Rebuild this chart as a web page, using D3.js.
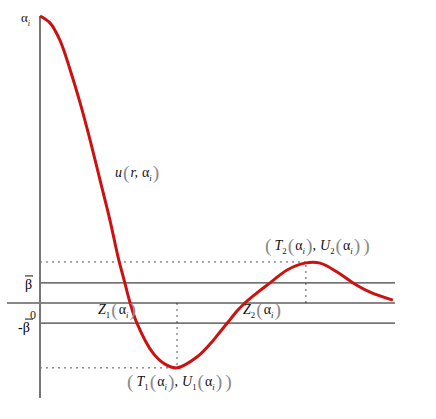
<!DOCTYPE html>
<html>
<head>
<meta charset="utf-8">
<script src="https://cdnjs.cloudflare.com/ajax/libs/d3/7.8.5/d3.min.js"></script>
<style>
  body { margin: 0; background: #fff; }
  text { font-family: "Liberation Serif", "DejaVu Serif", serif; }
</style>
</head>
<body>
<div id="chart"></div>
<script>
var WIDTH = 436
var HEIGHT = 419

// curve u(r, alpha_i)
var rValues = [0, 0.28, 0.56, 0.85, 1.13, 1.41, 1.69, 1.97, 2.20, 2.39, 2.54, 2.73, 3.18, 3.52, 3.86,
    4.42, 4.79, 5.07, 5.30, 5.55, 5.77, 6.11, 6.48, 6.96, 7.46, 7.89, 8.37, 8.82, 9.30, 9.94];
var uValues = [1.0, 0.976, 0.916, 0.812, 0.697, 0.568, 0.429, 0.289, 0.160, 0.070, 0, -0.070, -0.174, -0.213, -0.226,
    -0.188, -0.143, -0.101, -0.066, -0.028, 0, 0.035, 0.070, 0.115, 0.139, 0.139, 0.108, 0.070, 0.038, 0.010];

var beta = 0.070;
var extremaR = [3.86, 7.49];   // T1, T2
var extremaU = [-0.226, 0.143]; // U1, U2
var zerosR = [2.54, 5.77];     // Z1, Z2

var svg = d3.select('#chart').append('svg')
    .attr('width', WIDTH)
    .attr('height', HEIGHT);

var x = d3.scaleLinear().domain([0, 10]).range([40, 395]);
var y = d3.scaleLinear().domain([0, 1]).range([303, 16]);

// dotted guides to the extrema
extremaR.forEach((r, i) => {
    var dots = svg.append('g')
        .attr('stroke', '#555')
        .attr('stroke-width', 1)
        .attr('stroke-dasharray', '2,4');
    dots.append('line')
        .attr('x1', x(0)).attr('x2', x(r))
        .attr('y1', y(extremaU[i])).attr('y2', y(extremaU[i]));
    dots.append('line')
        .attr('x1', x(r)).attr('x2', x(r))
        .attr('y1', y(0)).attr('y2', y(extremaU[i]));
});

// beta levels and zero line
[beta, -beta].forEach(b => {
    svg.append('line')
        .attr('x1', x(0)).attr('x2', x(10))
        .attr('y1', y(b)).attr('y2', y(b))
        .attr('stroke', '#111')
        .attr('stroke-width', 1);
});
svg.append('line')
    .attr('x1', 7).attr('x2', x(10))
    .attr('y1', y(0)).attr('y2', y(0))
    .attr('stroke', '#111')
    .attr('stroke-width', 1);

// vertical axis
svg.append('line')
    .attr('x1', x(0)).attr('x2', x(0))
    .attr('y1', y(1)).attr('y2', 398)
    .attr('stroke', '#777')
    .attr('stroke-width', 2);

// the curve
var line = d3.line()
    .x((d, i) => x(rValues[i]))
    .y(d => y(d))
    .curve(d3.curveCatmullRom);

svg.append('path')
    .attr('d', line(uValues))
    .attr('fill', 'none')
    .attr('stroke', '#cc1111')
    .attr('stroke-width', 3)
    .attr('stroke-linejoin', 'round');

// math-ish labels built from pieces, every tspan on an absolute baseline
function mathLabel(px, py, parts, size) {
    var t = svg.append('text')
        .attr('x', px)
        .attr('y', py)
        .attr('font-size', size)
        .attr('fill', '#111');
    parts.forEach(p => {
        var s = t.append('tspan').text(p.t).attr('y', py);
        if (p.it) s.attr('font-style', 'italic');
        if (p.sub) s.attr('font-size', size * 0.62).attr('y', py + size * 0.3);
        if (p.paren) s.attr('fill', '#8a8a8a').attr('font-size', size * 1.4).attr('y', py + size * 0.14);
        if (p.dx) s.attr('dx', p.dx);
    });
    return t;
}

var aI = [{t: '\u03b1', dx: 1}, {t: 'i', sub: true, it: true}];

function fnOf(name, idx, lead) {
    return [{t: name, it: true, dx: lead || 0}, {t: idx, sub: true}, {t: '(', paren: true, dx: 1}]
        .concat(aI)
        .concat([{t: ')', paren: true, dx: 1}]);
}

mathLabel(20, 22, aI, 13);

mathLabel(115, 177, [{t: 'u', it: true}, {t: '(', paren: true, dx: 1}, {t: 'r,', it: true, dx: 1},
    {t: '\u03b1', dx: 4}, {t: 'i', sub: true, it: true}, {t: ')', paren: true, dx: 1}], 14);

// zeros
mathLabel(98, 314, fnOf('Z', '1'), 14);
mathLabel(243, 314, fnOf('Z', '2'), 14);

// extrema labels
function extremaParts(k) {
    return [{t: '(', paren: true}]
        .concat(fnOf('T', k, 3))
        .concat([{t: ','}])
        .concat(fnOf('U', k, 4))
        .concat([{t: ')', paren: true, dx: 3}]);
}
mathLabel(127, 386, extremaParts('1'), 14);
mathLabel(265, 250, extremaParts('2'), 14);

// y labels: beta bar, zero, minus beta bar
svg.append('text').attr('x', 25).attr('y', y(beta) + 6).attr('font-size', 14)
    .attr('font-family', 'DejaVu Sans').text('\u03b2');
svg.append('line').attr('x1', 25).attr('x2', 33).attr('y1', y(beta) - 7).attr('y2', y(beta) - 7)
    .attr('stroke', '#111').attr('stroke-width', 1);
svg.append('text').attr('x', 30).attr('y', y(0) + 16).attr('font-size', 12)
    .attr('font-family', 'DejaVu Sans').attr('fill', '#222').text('0');
svg.append('text').attr('x', 18).attr('y', y(-beta) + 9).attr('font-size', 14)
    .attr('font-family', 'DejaVu Sans').text('-\u03b2');
svg.append('line').attr('x1', 25).attr('x2', 33).attr('y1', y(-beta) - 4).attr('y2', y(-beta) - 4)
    .attr('stroke', '#111').attr('stroke-width', 1);
</script>
</body>
</html>
